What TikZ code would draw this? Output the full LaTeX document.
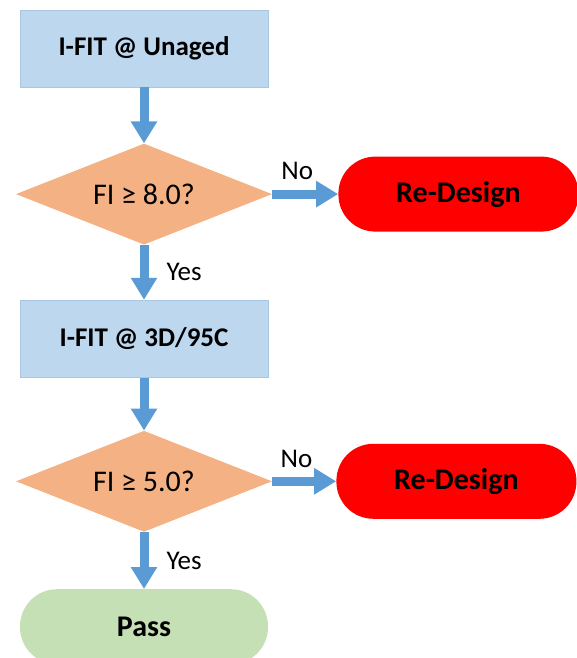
\documentclass[tikz,border=0pt]{standalone}
\usepackage{fontspec}
\setmainfont{Carlito}
\usetikzlibrary{positioning, arrows.meta, shapes.geometric}

\definecolor{boxblue}{HTML}{BDD7EE}
\definecolor{boxline}{HTML}{A9C6E3}
\definecolor{decorange}{HTML}{F4B183}
\definecolor{arrowblue}{HTML}{5B9BD5}
\definecolor{passgreen}{HTML}{C5E0B4}
\definecolor{failred}{HTML}{FF0000}

\begin{document}
\begin{tikzpicture}[
  x=1pt, y=1pt,
  >={Triangle[length=22pt, width=25pt]},
  every node/.style={font=\fontsize{27}{32}\selectfont}
]
\tikzset{
  test/.style   ={rectangle, draw=boxline, line width=0.8pt, fill=boxblue,
                  minimum width=248pt, minimum height=77pt,
                  font=\bfseries\fontsize{27}{32}\selectfont},
  check/.style  ={diamond, fill=decorange, aspect=2.5, inner sep=0pt,
                  minimum width=256pt, minimum height=101pt,
                  font=\fontsize{30}{36}\selectfont},
  term/.style   ={rectangle, rounded corners=37pt, minimum height=75pt,
                  font=\bfseries\fontsize{30}{36}\selectfont},
  fail/.style   ={term, fill=failred, minimum width=240pt},
  pass/.style   ={term, fill=passgreen, minimum width=248pt},
  flow/.style   ={->, draw=arrowblue, line width=9pt},
  lbl/.style    ={inner sep=3pt}
}

\useasboundingbox (0,0) rectangle (576,-658);

%% ----- First test -----
\node[test] (fit1) at (144,-48.5) {I-FIT @ Unaged};
\node[check, below=56pt of fit1] (dec1) {FI ≥ 8.0?};
\node[fail, right=66pt of dec1] (red1) {Re-Design};

\draw[flow] (fit1) -- (dec1);
\draw[flow] (dec1) -- (red1)
  node[lbl, pos=0.38, above=7pt] {No};

%% ----- Second test -----
\node[test, below=55pt of dec1] (fit2) {I-FIT @ 3D/95C};
\node[check, below=53pt of fit2] (dec2) {FI ≥ 5.0?};
\node[fail, right=64pt of dec2] (red2) {Re-Design};

\draw[flow] (dec1) -- (fit2)
  node[lbl, midway, right=15pt] {Yes};
\draw[flow] (fit2) -- (dec2);
\draw[flow] (dec2) -- (red2)
  node[lbl, pos=0.38, above=6pt] {No};

%% ----- Result -----
\node[pass, below=57pt of dec2] (ok) {Pass};
\draw[flow] (dec2) -- (ok)
  node[lbl, midway, right=15pt] {Yes};

\end{tikzpicture}
\end{document}
